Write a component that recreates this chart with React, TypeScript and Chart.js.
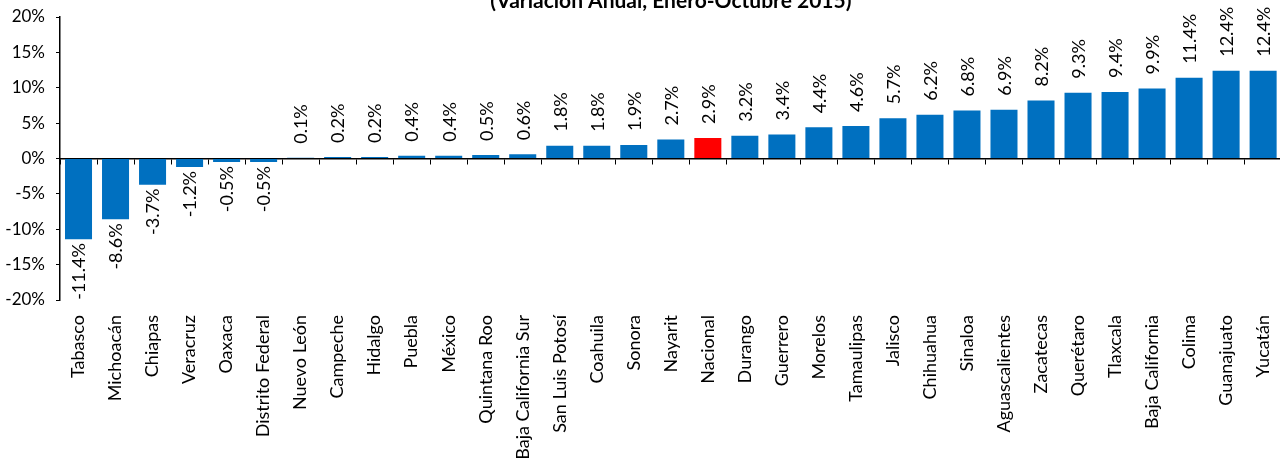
import React, { useEffect, useRef } from "react";
import { Chart, registerables } from "chart.js";

Chart.register(...registerables);

const categories: string[] = [
  "Tabasco", "Michoacán", "Chiapas", "Veracruz", "Oaxaca", "Distrito Federal",
  "Nuevo León", "Campeche", "Hidalgo", "Puebla", "México", "Quintana Roo",
  "Baja California Sur", "San Luis Potosí", "Coahuila", "Sonora", "Nayarit",
  "Nacional", "Durango", "Guerrero", "Morelos", "Tamaulipas", "Jalisco",
  "Chihuahua", "Sinaloa", "Aguascalientes", "Zacatecas", "Querétaro",
  "Tlaxcala", "Baja California", "Colima", "Guanajuato", "Yucatán",
];

const values: number[] = [
  -11.4, -8.6, -3.7, -1.2, -0.5, -0.5,
  0.1, 0.2, 0.2, 0.4, 0.4, 0.5,
  0.6, 1.8, 1.8, 1.9, 2.7,
  2.9, 3.2, 3.4, 4.4, 4.6, 5.7,
  6.2, 6.8, 6.9, 8.2, 9.3,
  9.4, 9.9, 11.4, 12.4, 12.4,
];

const yTicks: number[] = [-20, -15, -10, -5, 0, 5, 10, 15, 20];
const titleText = "(Variación Anual, Enero-Octubre 2015)";
const highlight = "Nacional";

const BLUE = "#0070C0";
const RED = "#FF0000";
const FONT = "Lato";

const dataLabelPlugin = {
  id: "barValueLabels",
  afterDatasetsDraw(chart: any) {
    const ctx = chart.ctx;
    const meta = chart.getDatasetMeta(0);
    ctx.save();
    ctx.font = `18px ${FONT}`;
    ctx.fillStyle = "#000";
    ctx.textBaseline = "middle";
    meta.data.forEach((bar: any, i: number) => {
      const v = values[i];
      const txt = v.toFixed(1) + "%";
      ctx.save();
      ctx.translate(bar.x + 1, bar.y);
      ctx.rotate(-Math.PI / 2);
      if (v >= 0) {
        ctx.textAlign = "left";
        ctx.fillText(txt, 14, 0);
      } else {
        ctx.textAlign = "right";
        ctx.fillText(txt, -4, 0);
      }
      ctx.restore();
    });
    ctx.restore();
  },
};

export default function App() {
  const canvasRef = useRef<HTMLCanvasElement | null>(null);

  useEffect(() => {
    if (!canvasRef.current) return;
    const chart = new Chart(canvasRef.current, {
      type: "bar",
      data: {
        labels: categories,
        datasets: [
          {
            data: values,
            backgroundColor: categories.map((c) => (c === highlight ? RED : BLUE)),
            borderWidth: 0,
            barPercentage: 0.73,
            categoryPercentage: 1,
            xAxisID: "x",
            yAxisID: "y",
          },
        ],
      },
      options: {
        animation: false,
        responsive: false,
        maintainAspectRatio: false,
        devicePixelRatio: 1,
        layout: { padding: { left: 0, right: 12, top: 0, bottom: 0 } },
        plugins: {
          legend: { display: false },
          tooltip: { enabled: false },
          title: {
            display: true,
            text: titleText,
            fullSize: false,
            color: "#000",
            font: { family: FONT, size: 21, weight: "bold" },
            padding: { top: 0.4, bottom: 3.4 },
          },
        },
        scales: {
          x: {
            type: "category",
            position: "bottom",
            offset: true,
            grid: { display: false, drawTicks: false },
            border: { display: false },
            ticks: {
              autoSkip: false,
              maxRotation: 90,
              minRotation: 90,
              padding: 15,
              color: "#000",
              font: { family: FONT, size: 18 },
            },
            afterFit: (scale: any) => {
              scale.height = 170;
            },
          },
          xZero: {
            type: "category",
            position: { y: 0 } as any,
            offset: true,
            grid: {
              display: true,
              drawOnChartArea: false,
              drawTicks: true,
              tickLength: 5,
              offset: true,
              color: "#000",
              lineWidth: 1,
            },
            border: { display: true, color: "#000", width: 1.5 },
            ticks: { display: false },
          },
          y: {
            type: "linear",
            position: "left",
            min: -20,
            max: 20,
            afterBuildTicks: (scale: any) => {
              scale.ticks = yTicks.map((v) => ({ value: v }));
            },
            grid: {
              display: true,
              drawOnChartArea: false,
              drawTicks: true,
              tickLength: 4,
              color: "#000",
            },
            border: { display: true, color: "#000", width: 1.5 },
            ticks: {
              padding: 11,
              color: "#000",
              font: { family: FONT, size: 17 },
              callback: (v: any) => `${v}%`,
            },
            afterFit: (scale: any) => {
              scale.width = 60;
            },
          },
        },
      },
      plugins: [dataLabelPlugin],
    });
    return () => chart.destroy();
  }, []);

  return (
    <div
      style={{
        position: "absolute",
        left: 0,
        top: 0,
        width: 1280,
        height: 470,
        overflow: "hidden",
        background: "#fff",
      }}
    >
      <div style={{ position: "absolute", left: 0, top: -12, width: 1300, height: 482 }}>
        <canvas ref={canvasRef} width={1300} height={482} style={{ width: 1300, height: 482 }} />
      </div>
    </div>
  );
}
